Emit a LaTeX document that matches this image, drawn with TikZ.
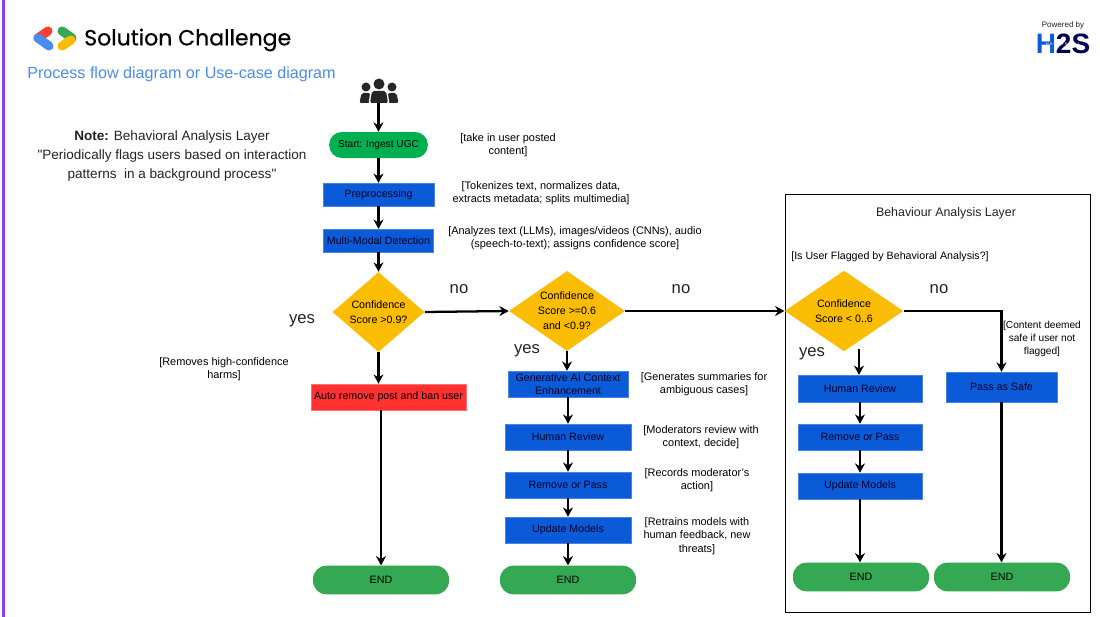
\documentclass[tikz,border=0pt]{standalone}
\usepackage{fontspec}
\setmainfont{Liberation Sans}
\newfontfamily\logofont[FakeBold=0.5]{Poppins}
\newfontfamily\notefont{Liberation Sans}
\usetikzlibrary{arrows.meta,positioning,calc,shapes.geometric}
\definecolor{procblue}{HTML}{0B5BD8}
\definecolor{startgreen}{HTML}{00B050}
\definecolor{endgreen}{HTML}{34A853}
\definecolor{decamber}{HTML}{FBBC04}
\definecolor{banred}{HTML}{FF3131}
\definecolor{titleblue}{HTML}{4A8CF0}
\definecolor{edgepurple}{HTML}{8B3DFF}
\definecolor{inkdark}{HTML}{222222}
\tikzset{
  flowtxt/.style={font=\fontsize{8}{10}\selectfont, text=black, inner sep=0pt, align=center},
  procbox/.style={flowtxt, fill=procblue, draw=procblue!75, line width=0.4pt, text=black!85!blue},
  endpill/.style={flowtxt, fill=endgreen, rounded corners=10pt, minimum width=102pt, minimum height=21.5pt},
  decision/.style={flowtxt, font=\fontsize{8}{11.25}\selectfont, diamond, fill=decamber, inner sep=-8pt},
  notetxt/.style={flowtxt, font=\fontsize{8.2}{10}\selectfont},
  yesno/.style={inner sep=0pt, font=\fontsize{12.5}{14}\selectfont, text=inkdark},
  flowarr/.style={-{Stealth[length=7pt,width=7.5pt]}, line width=1.7pt, black},
  logoln/.style={line width=6.8pt, line cap=round},
}
\newcommand{\usericon}[2]{%
  \fill[#1] (#2) ++(0,-8) circle (5.5);
  \foreach \sx in {-13,13} \fill[#1] (#2) ++(\sx,-5) circle (4.5);
  \foreach \sx in {-13,13} \fill[#1, rounded corners=1.5pt] (#2) ++(\sx-6.5,11) -- ++(2,-10) -- ++(9,0) -- ++(2,10) -- cycle;
  \fill[white, rounded corners=1.5pt] (#2) ++(-10.5,12) -- ++(2,-13) -- ++(17,0) -- ++(2,13) -- cycle;
  \fill[#1, rounded corners=1.5pt] (#2) ++(-9,11) -- ++(2,-12) -- ++(14,0) -- ++(2,12) -- cycle;
}
\begin{document}
\begin{tikzpicture}[x=0.75pt,y=-0.75pt]
    \useasboundingbox (0,0) rectangle (1100,617);
    % purple edge of the slide
    \fill[edgepurple] (1.5,0) rectangle (5,617);
    % logo and heading
    \draw[logoln, draw=banred!85!orange] (48,31) -- (38,38);
    \draw[logoln, draw=titleblue] (38,38) -- (49,46);
    \draw[logoln, draw=endgreen] (62,31) -- (72,38);
    \draw[logoln, draw=decamber] (71,40) -- (62,46);
    \node[anchor=west, inner sep=0pt, text=black] (logotxt) at (84,40) {\logofont\fontsize{16.5}{20}\selectfont Solution Challenge};
    \node[anchor=west, inner sep=0pt, text=titleblue, font=\fontsize{12.1}{14}\selectfont] (slidetitle) at (27,74) {Process flow diagram or Use-case diagram};
    \node[inner sep=0pt, text=inkdark, font=\fontsize{6}{7}\selectfont] (powered) at (1063,25) {Powered by};
    \node[inner sep=0pt, font=\bfseries\fontsize{21}{22}\selectfont, text=blue!35!black] (hts) at (1063,44) {{\color{procblue}H}2S};
    \node[inner sep=0pt, font=\fontsize{3}{3}\selectfont, text=white] (htsband) at (1063,44) {H A C K 2 S K I L L};
    % behavioural note
    \node[flowtxt, font=\notefont\fontsize{10.15}{13.9}\selectfont, text=inkdark] (note) at (172,156) {\textbf{Note:} Behavioral Analysis Layer\\"Periodically flags users based on interaction\\patterns~ in a background process"};
    % layer frame
    \node[draw=black, line width=0.6pt, minimum width=228.75pt, minimum height=313.5pt, inner sep=0pt] (layerbox) at (937.5,403) {};
    \node[flowtxt, font=\fontsize{9.3}{11}\selectfont, text=inkdark] (layertitle) at (946,213) {Behaviour Analysis Layer};
    % first column
    \usericon{black!85}{379,92}
    \coordinate (crowd) at (378.5,103);
    \node[flowtxt, font=\fontsize{7.6}{10}\selectfont, fill=startgreen, rounded corners=9.5pt, minimum width=74pt, minimum height=19.5pt] (start) at (378.5,145) {Start: Ingest UGC};
    \node[procbox, minimum width=83pt, minimum height=17pt] (prep) at (378.5,194.5) {Preprocessing};
    \node[procbox, minimum width=82.5pt, minimum height=17pt] (detect) at (378.5,240.5) {Multi-Modal Detection};
    \node[decision, minimum width=69pt, minimum height=60pt] (decone) at (378.5,312) {Confidence\\Score >0.9?};
    \node[flowtxt, fill=banred, draw=banred!70!white, line width=0.4pt, minimum width=116pt, minimum height=19.5pt] (autoban) at (388.5,397) {Auto remove post and ban user};
    \node[endpill] (endone) at (381,580) {END};
    % second column
    \node[decision, minimum width=87pt, minimum height=60pt] (dectwo) at (567,311) {Confidence\\Score >=0.6\\and <0.9?};
    \node[procbox, minimum width=90pt, minimum height=19.5pt] (genai) at (568,384) {Generative AI Context\\Enhancement};
    \node[procbox, minimum width=94.5pt, minimum height=19.5pt] (reviewtwo) at (568,437) {Human Review};
    \node[procbox, minimum width=94.5pt, minimum height=19.5pt] (passtwo) at (568,485) {Remove or Pass};
    \node[procbox, minimum width=94.5pt, minimum height=19.5pt] (updatetwo) at (568,530) {Update Models};
    \node[endpill] (endtwo) at (568,580) {END};
    % third column, in the layer frame
    \node[decision, minimum width=89pt, minimum height=60.5pt] (decthree) at (844,311) {Confidence\\Score < 0..6};
    \node[procbox, minimum width=93pt, minimum height=20pt] (reviewthree) at (860,388.5) {Human Review};
    \node[procbox, minimum width=93pt, minimum height=19.5pt] (passthree) at (860,437) {Remove or Pass};
    \node[procbox, minimum width=93pt, minimum height=19.5pt] (updatethree) at (860,486) {Update Models};
    \node[endpill] (endthree) at (861,577) {END};
    \node[procbox, minimum width=83pt, minimum height=22.5pt] (safe) at (1001.5,387) {Pass as Safe};
    \node[endpill] (endfour) at (1002,577) {END};
    \coordinate (yesthree) at (859,349);
    % side comments
    \node[notetxt] (cmtingest) at (508,145) {[take in user posted\\content]};
    \node[notetxt] (cmtprep) at (541,193) {[Tokenizes text, normalizes data,\\extracts metadata; splits multimedia]};
    \node[notetxt] (cmtdetect) at (575,238) {[Analyzes text (LLMs), images/videos (CNNs), audio\\(speech-to-text); assigns confidence score]};
    \node[notetxt] (cmtharm) at (224,369) {[Removes high-confidence\\harms]};
    \node[notetxt] (cmtgen) at (704,384) {[Generates summaries for\\ambiguous cases]};
    \node[notetxt] (cmtreview) at (701,437) {[Moderators review with\\context, decide]};
    \node[notetxt] (cmtaction) at (697,480) {[Records moderator's\\action]};
    \node[notetxt] (cmtretrain) at (697,536) {[Retrains models with\\human feedback, new\\threats]};
    \node[flowtxt] (cmtflag) at (890,257) {[Is User Flagged by Behavioral Analysis?]};
    \node[flowtxt, font=\fontsize{7.6}{10}\selectfont] (cmtsafe) at (1042,339) {[Content deemed\\safe if user not\\flagged]};
    % yes and no
    \node[yesno] (noone) at (459,289) {no};
    \node[yesno] (yesone) at (302,321) {yes};
    \node[yesno] (notwo) at (681,289) {no};
    \node[yesno] (yestwo) at (527,351) {yes};
    \node[yesno] (nothree) at (939,289) {no};
    \node[yesno] (yeslayer) at (812,354) {yes};
    % connectors
    \draw[flowarr] (crowd) -- (start.north);
    \draw[flowarr] (start.south) -- (prep.north);
    \draw[flowarr] (prep.south) -- (detect.north);
    \draw[flowarr] (detect.south) -- (decone.north);
    \draw[flowarr] (decone.south) -- (decone.south |- autoban.north);
    \draw[flowarr] (autoban.south -| endone.north) -- (endone.north);
    \draw[flowarr] (decone.east) -- (dectwo.west);
    \draw[flowarr] (dectwo.east) -- (decthree.west);
    \draw[flowarr] (dectwo.south) -- (dectwo.south |- genai.north);
    \draw[flowarr] (genai.south) -- (reviewtwo.north);
    \draw[flowarr] (reviewtwo.south) -- (passtwo.north);
    \draw[flowarr] (passtwo.south) -- (updatetwo.north);
    \draw[flowarr] (updatetwo.south) -- (endtwo.north);
    \draw[flowarr] (decthree.east) -| (safe.north);
    \draw[flowarr] (safe.south) -- (safe.south |- endfour.north);
    \draw[flowarr] (yesthree) -- (yesthree |- reviewthree.north);
    \draw[flowarr] (reviewthree.south) -- (passthree.north);
    \draw[flowarr] (passthree.south) -- (updatethree.north);
    \draw[flowarr] (updatethree.south) -- (updatethree.south |- endthree.north);
\end{tikzpicture}
\end{document}
